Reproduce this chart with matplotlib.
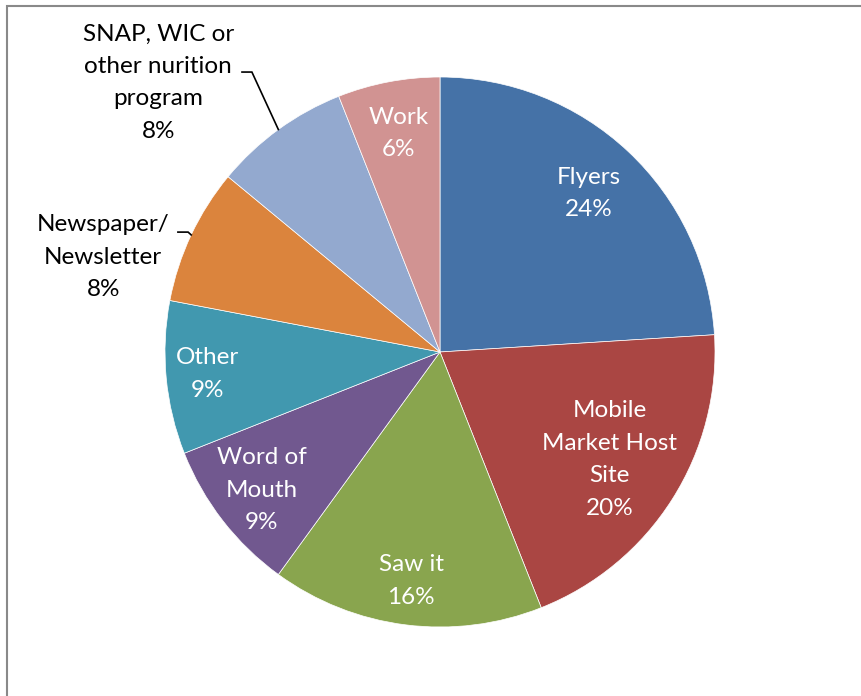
import numpy as np
import matplotlib
matplotlib.use("Agg")
import matplotlib.pyplot as plt
from matplotlib.patches import Rectangle

labels = ["Flyers", "Mobile\nMarket Host\nSite", "Saw it", "Word of\nMouth", "Other",
          "Newspaper/\nNewsletter", "SNAP, WIC or\nother nurition\nprogram", "Work"]
shares = [24, 20, 16, 9, 9, 8, 8, 6]
colors = ["#4572A7", "#AA4643", "#89A54E", "#71588F", "#4198AF",
          "#DB843D", "#93A9CF", "#D19392"]

# radial distance of the inside labels (in pie radii)
inside_dist = {0: 0.79, 1: 0.73, 2: 0.84, 3: 0.82, 4: 0.85, 7: 0.81}
# outside labels: text position and elbow of the leader line
outside = {
    5: ((-1.225, 0.345), [(-0.953, 0.436), (-0.916, 0.436)]),
    6: ((-1.025, 0.98), [(-0.72, 1.018), (-0.684, 1.018)]),
}

plt.rcParams["font.family"] = ["Lato", "DejaVu Sans"]

W, H = 861, 696
R = 275.0
cx, cy = 440, 352

fig = plt.figure(figsize=(W / 100, H / 100), dpi=100)
ax = fig.add_axes([0, 0, 1, 1])

wedges, _ = ax.pie(shares, startangle=90, counterclock=False, radius=1,
                   colors=colors,
                   wedgeprops=dict(edgecolor="white", linewidth=0.5))
ax.set_xlim(-cx / R, (W - cx) / R)
ax.set_ylim(-(H - cy) / R, cy / R)
ax.set_aspect("equal")
ax.axis("off")

fs = 17.5
ls = 1.67
for i, (w, lab, v) in enumerate(zip(wedges, labels, shares)):
    mid = np.deg2rad((w.theta1 + w.theta2) / 2)
    txt = f"{lab}\n{v}%"
    if i in inside_dist:
        d = inside_dist[i]
        ax.text(d * np.cos(mid), d * np.sin(mid), txt, color="white",
                ha="center", va="center", fontsize=fs, linespacing=ls)
    else:
        pos, elbow = outside[i]
        ax.text(pos[0], pos[1], txt, color="black", ha="center", va="center",
                fontsize=fs, linespacing=ls)
        xs = [p[0] for p in elbow] + [np.cos(mid)]
        ys = [p[1] for p in elbow] + [np.sin(mid)]
        ax.plot(xs, ys, color="black", lw=1.2, solid_joinstyle="miter")

# chart area border, clipped by the image edges on the right and bottom
fig.patches.append(Rectangle((6.5 / W, -0.1), 1.2, 1.1 - 5.5 / H,
                             transform=fig.transFigure, fill=False,
                             edgecolor="#898989", lw=1.5))

fig.savefig("out.png", dpi=100)
